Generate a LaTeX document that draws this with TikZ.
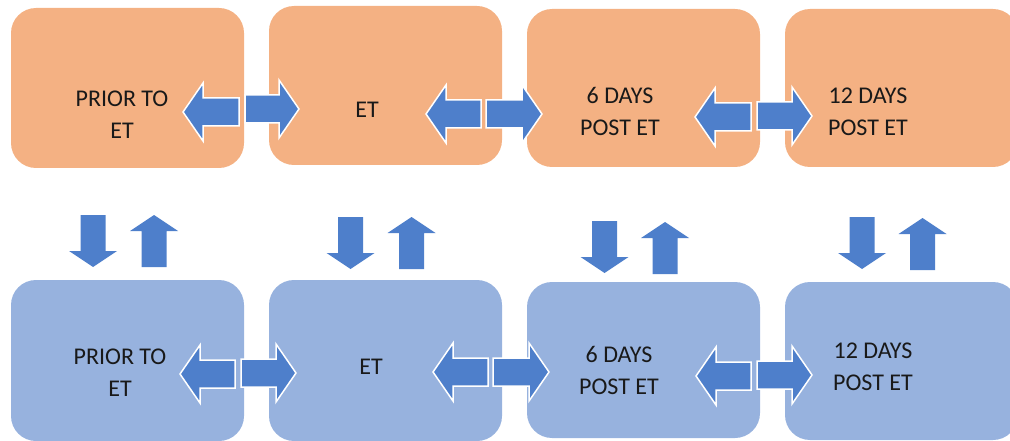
\documentclass[tikz,border=0pt]{standalone}
\usepackage{fontspec}
\setmainfont{Carlito}
\definecolor{peach}{HTML}{F4B183}
\definecolor{skyblue}{HTML}{97B2DE}
\definecolor{arrowblue}{HTML}{4E7FCB}
\tikzset{
  stagebox/.style={rectangle, rounded corners=25pt, minimum width=233pt, inner sep=0pt},
  stagetext/.style={align=center, inner sep=0pt, text=black!90,
    font=\fontsize{24}{32}\selectfont},
  blockarrow/.style={fill=arrowblue, draw=white, line width=1.5pt, line join=miter},
  flatarrow/.style={fill=arrowblue}
}
% block arrow left/right: tail x, tip x, centre y
\newcommand{\harrow}[3]{%
  \filldraw[blockarrow] (#1,#3-14) -- ({(#2)+20*sign((#1)-(#2))},#3-14)
    -- ({(#2)+20*sign((#1)-(#2))},#3-29) -- (#2,#3) -- ({(#2)+20*sign((#1)-(#2))},#3+29)
    -- ({(#2)+20*sign((#1)-(#2))},#3+14) -- (#1,#3+14) -- cycle;}
% block arrow up/down: centre x, tail y, tip y
\newcommand{\varrow}[3]{%
  \fill[flatarrow] (#1-12.5,#2) -- (#1-12.5,{(#3)+16*sign((#2)-(#3))})
    -- (#1-24,{(#3)+16*sign((#2)-(#3))}) -- (#1,#3) -- (#1+24,{(#3)+16*sign((#2)-(#3))})
    -- (#1+12.5,{(#3)+16*sign((#2)-(#3))}) -- (#1+12.5,#2) -- cycle;}
\begin{document}
\begin{tikzpicture}[x=1pt,y=-1pt]
  \useasboundingbox (0,0) rectangle (1010,441);
  \clip (0,0) rectangle (1010,441);
  % Top row (orange)
  \node[stagebox, fill=peach, minimum height=160pt] (top1) at (127.5,88) {};
  \node[stagebox, fill=peach, minimum height=159pt] (top2) at (385.5,85.5) {};
  \node[stagebox, fill=peach, minimum height=158pt] (top3) at (643.5,88) {};
  \node[stagebox, fill=peach, minimum height=158pt] (top4) at (901.5,88) {};
  % Bottom row (blue)
  \node[stagebox, fill=skyblue, minimum height=161pt] (bot1) at (127.5,360.5) {};
  \node[stagebox, fill=skyblue, minimum height=161pt] (bot2) at (385.5,360.5) {};
  \node[stagebox, fill=skyblue, minimum height=156pt] (bot3) at (643.5,360) {};
  \node[stagebox, fill=skyblue, minimum height=158pt] (bot4) at (901.5,361) {};
  % Labels
  \node[stagetext] (ttop1) at (122,114.5) {PRIOR TO\\ET};
  \node[stagetext] (ttop2) at (367,110) {ET};
  \node[stagetext] (ttop3) at (620,111.5) {6 DAYS\\POST ET};
  \node[stagetext] (ttop4) at (868,111.5) {12 DAYS\\POST ET};
  \node[stagetext] (tbot1) at (120,373) {PRIOR TO\\ET};
  \node[stagetext] (tbot2) at (371,366.5) {ET};
  \node[stagetext] (tbot3) at (619,370) {6 DAYS\\POST ET};
  \node[stagetext] (tbot4) at (873,366.5) {12 DAYS\\POST ET};
  % Left/right arrows between stages
  \foreach \tl/\pl/\yl/\tr/\pr/\yr in {239/183/112/245/299/109, 481/426/114/486/542/114,
      751/695/117/757/812/116, 235/180/374/241/296/373, 488/433/372/493/549/372,
      751/696/376/757/812/375}{
    \harrow{\tl}{\pl}{\yl}
    \harrow{\tr}{\pr}{\yr}
  }
  % Down/up arrows between rows
  \foreach \xd/\yd/\xu/\yu in {93/215/154/215, 350.5/217/411.5/217,
      604.5/221/665/222, 862/217/922.5/218}{
    \varrow{\xd}{\yd}{\yd+52}
    \varrow{\xu}{\yu+52}{\yu}
  }
\end{tikzpicture}
\end{document}
